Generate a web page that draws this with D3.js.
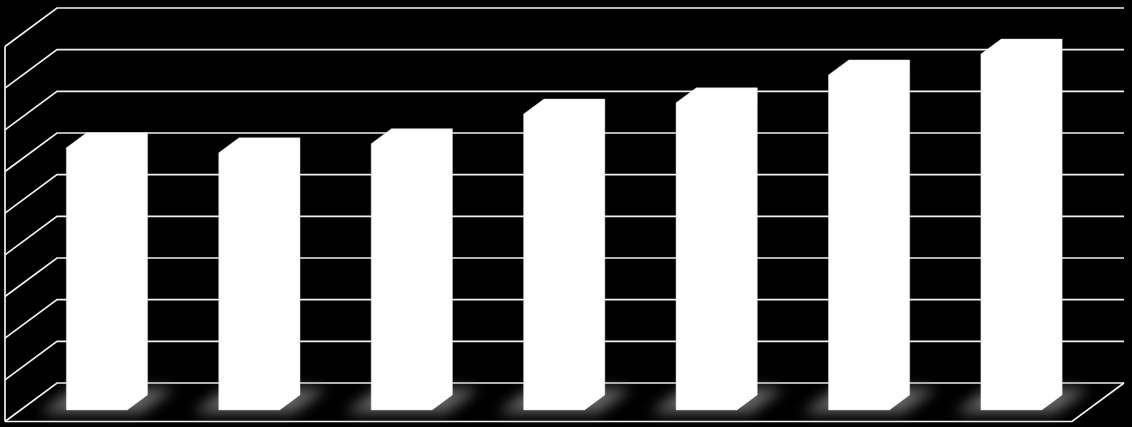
<!DOCTYPE html>
<html>
<head>
<meta charset="utf-8">
<script src="https://cdn.jsdelivr.net/npm/d3@7"></script>
<style>
  html, body { margin: 0; padding: 0; background: #000; }
  svg { display: block; }
</style>
</head>
<body>
<svg id="chart"></svg>
<script>
// chart data
const categories = ["1", "2", "3", "4", "5", "6", "7"];
const values = [62.9, 61.7, 63.9, 71.0, 73.7, 80.4, 85.4];
const tickValues = [0, 10, 20, 30, 40, 50, 60, 70, 80, 90];

const settings = {
  width: 1132,
  height: 427,
  floorLeft: 5,
  floorRight: 1072,
  floorFront: 421.5,
  depthX: 52,
  depthY: 38.5,
  wallHeight: 375,
  barFront: 0.3,
  barBack: 0.69,
  lineColor: "#f0f0f0",
  lineWidth: 1.7
};

const svg = d3.select("#chart")
  .attr("width", settings.width)
  .attr("height", settings.height);

const xScale = d3.scaleBand()
  .domain(categories)
  .range([settings.floorLeft, settings.floorRight])
  .paddingInner(0.6)
  .paddingOuter(0.3);

const yScale = d3.scaleLinear()
  .domain([0, 90])
  .range([0, settings.wallHeight]);

// projection: x along floor front, v value, z depth (0 front, 1 back)
function project(x, v, z) {
  return [
    x + z * settings.depthX,
    settings.floorFront - yScale(v) - z * settings.depthY
  ];
}

const line = d3.line();

const defs = svg.append("defs");
defs.append("filter")
  .attr("id", "blur")
  .attr("x", "-50%").attr("y", "-50%")
  .attr("width", "200%").attr("height", "200%")
  .append("feGaussianBlur")
  .attr("stdDeviation", 7);

const gridGroup = svg.append("g").attr("class", "grid");

// side wall vertical edge
gridGroup.append("path")
  .attr("d", line([project(settings.floorLeft, 0, 0), project(settings.floorLeft, 90, 0)]))
  .attr("stroke", settings.lineColor)
  .attr("stroke-width", settings.lineWidth)
  .attr("fill", "none");

// gridlines: diagonal on side wall, horizontal on back wall
gridGroup.selectAll("path.tick")
  .data(tickValues)
  .enter()
  .append("path")
  .attr("class", "tick")
  .attr("d", v => line([
    project(settings.floorLeft, v, 0),
    project(settings.floorLeft, v, 1),
    project(settings.floorRight, v, 1)
  ]))
  .attr("stroke", settings.lineColor)
  .attr("stroke-width", settings.lineWidth)
  .attr("fill", "none");

// floor front and right edge
gridGroup.append("path")
  .attr("d", line([
    project(settings.floorLeft, 0, 0),
    project(settings.floorRight, 0, 0),
    project(settings.floorRight, 0, 1)
  ]))
  .attr("stroke", settings.lineColor)
  .attr("stroke-width", settings.lineWidth)
  .attr("fill", "none");

// soft shadows on the floor
const bw = xScale.bandwidth();
svg.append("g")
  .attr("class", "shadows")
  .selectAll("path")
  .data(categories)
  .enter()
  .append("path")
  .attr("d", c => {
    const x0 = xScale(c) - 22;
    const x1 = xScale(c) + bw + 18;
    return line([
      project(x0, 0, 0.22),
      project(x1, 0, 0.22),
      project(x1, 0, 0.86),
      project(x0, 0, 0.86)
    ]) + "Z";
  })
  .attr("fill", "#8a8a8a")
  .attr("opacity", 0.75)
  .attr("filter", "url(#blur)");

// bars (front, top and side faces all white)
svg.append("g")
  .attr("class", "bars")
  .selectAll("path")
  .data(categories.map((c, i) => ({ name: c, value: values[i] })))
  .enter()
  .append("path")
  .attr("d", ({ name, value }) => {
    const x0 = xScale(name);
    const x1 = x0 + bw;
    const f = settings.barFront;
    const b = settings.barBack;
    return line([
      project(x0, 0, f),
      project(x0, value, f),
      project(x0, value, b),
      project(x1, value, b),
      project(x1, 0, b),
      project(x1, 0, f)
    ]) + "Z";
  })
  .attr("fill", "#ffffff")
  .attr("stroke", "#d8d8d8")
  .attr("stroke-width", 0.5);
</script>
</body>
</html>
